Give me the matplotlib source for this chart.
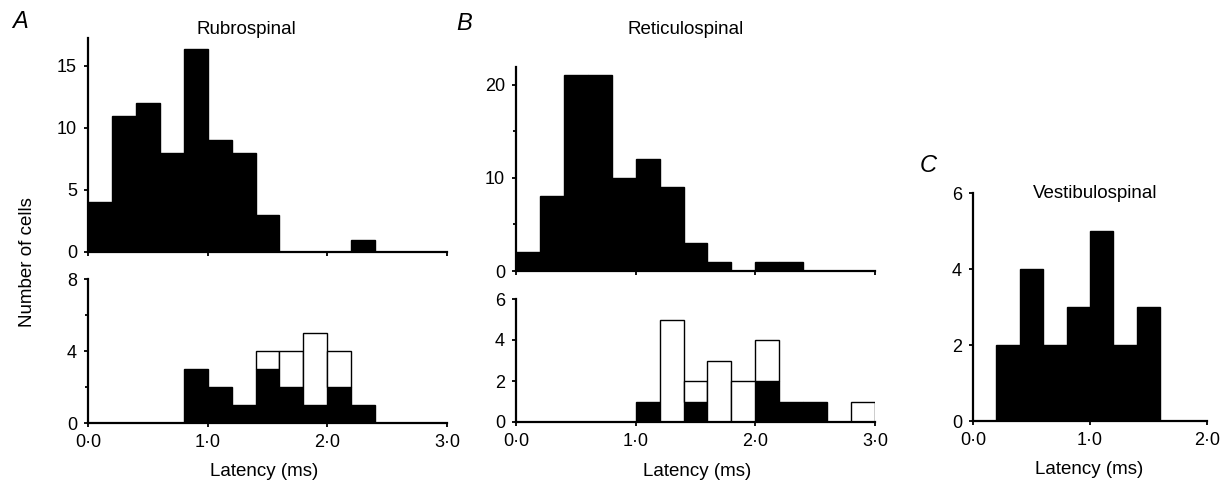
import numpy as np
import matplotlib
matplotlib.use("Agg")
import matplotlib.pyplot as plt
from matplotlib.ticker import FixedLocator

plt.rcParams['font.family'] = ['Liberation Sans', 'DejaVu Sans']

# bin left edges (ms), bin width 0.2 ms
bin_w = 0.2
edges_ab = np.round(np.arange(0, 3.0, bin_w), 1)
edges_c = np.round(np.arange(0, 2.0, bin_w), 1)

# A: rubrospinal
rubro_top = [4, 11, 12, 8, 16.4, 9, 8, 3, 0, 0, 0, 1, 0, 0, 0]
rubro_black = [0, 0, 0, 0, 3, 2, 1, 3, 2, 1, 2, 1, 0, 0, 0]
rubro_total = [0, 0, 0, 0, 3, 2, 1, 4, 4, 5, 4, 1, 0, 0, 0]

# B: reticulospinal
retic_top = [2, 8, 21, 21, 10, 12, 9, 3, 1, 0, 1, 1, 0, 0, 0]
retic_black = [0, 0, 0, 0, 0, 1, 0, 1, 0, 0, 2, 1, 1, 0, 0]
retic_total = [0, 0, 0, 0, 0, 1, 5, 2, 3, 2, 4, 1, 1, 0, 1]

# C: vestibulospinal
vesti = [0, 2, 4, 2, 3, 5, 2, 3, 0, 0]

x_ticks_3 = [0, 1, 2, 3]
x_labels_3 = ['0·0', '1·0', '2·0', '3·0']
x_ticks_2 = [0, 1, 2]
x_labels_2 = ['0·0', '1·0', '2·0']

W, H = 1221, 482
fig = plt.figure(figsize=(W / 100, H / 100), dpi=100)


def px_axes(x0, x1, ytop, ybot):
    return fig.add_axes([x0 / W, 1 - ybot / H, (x1 - x0) / W, (ybot - ytop) / H])


def style(ax, xlim, ylim, yticks, yminor=None, xticks=None, xlabels=None):
    ax.set_xlim(*xlim)
    ax.set_ylim(*ylim)
    for s in ['top', 'right']:
        ax.spines[s].set_visible(False)
    for s in ['left', 'bottom']:
        ax.spines[s].set_linewidth(1.6)
    ax.set_yticks(yticks)
    ax.set_yticklabels([str(t) for t in yticks])
    if yminor is not None:
        ax.yaxis.set_minor_locator(FixedLocator(yminor))
    ax.set_xticks(xticks)
    if xlabels is None:
        ax.set_xticklabels([])
    else:
        ax.set_xticklabels(xlabels)
    ax.tick_params(which='both', direction='out', length=3, width=1.3,
                   labelsize=13)
    ax.tick_params(axis='y', pad=5)
    ax.tick_params(axis='x', pad=5)
    ax.tick_params(which='minor', length=2)


def black_bars(ax, edges, vals):
    ax.bar(edges, vals, width=bin_w, align='edge', color='black',
           edgecolor='black', linewidth=1)


def stacked_bars(ax, edges, black, total):
    black = np.array(black)
    total = np.array(total)
    white = total - black
    ax.bar(edges, black, width=bin_w, align='edge', color='black',
           edgecolor='black', linewidth=1)
    m = white > 0
    ax.bar(edges[m], white[m], bottom=black[m], width=bin_w, align='edge',
           color='white', edgecolor='black', linewidth=1)


# Panel A
axA1 = px_axes(88, 447, 38, 252)
black_bars(axA1, edges_ab, rubro_top)
style(axA1, (0, 3), (0, 17.25), [0, 5, 10, 15], xticks=x_ticks_3)

axA2 = px_axes(88, 447, 279, 423)
stacked_bars(axA2, edges_ab, rubro_black, rubro_total)
style(axA2, (0, 3), (0, 8), [0, 4, 8], yminor=[2, 6],
      xticks=x_ticks_3, xlabels=x_labels_3)

# Panel B
axB1 = px_axes(516, 875, 67, 271)
black_bars(axB1, edges_ab, retic_top)
style(axB1, (0, 3), (0, 21.9), [0, 10, 20], yminor=[5, 15], xticks=x_ticks_3)

axB2 = px_axes(516, 875, 299, 422)
stacked_bars(axB2, edges_ab, retic_black, retic_total)
style(axB2, (0, 3), (0, 6), [0, 2, 4, 6],
      xticks=x_ticks_3, xlabels=x_labels_3)

# Panel C
axC = px_axes(973, 1207, 193, 421)
black_bars(axC, edges_c, vesti)
style(axC, (0, 2), (0, 6), [0, 2, 4, 6],
      xticks=x_ticks_2, xlabels=x_labels_2)


# texts
def ftext(x, y, s, **kw):
    fig.text(x / W, 1 - y / H, s, ha='center', va='center', **kw)


ftext(20, 21, 'A', fontsize=17, style='italic')
ftext(464, 24, 'B', fontsize=17, style='italic')
ftext(928, 165, 'C', fontsize=17, style='italic')
ftext(246, 29, 'Rubrospinal', fontsize=13.5)
ftext(686, 29, 'Reticulospinal', fontsize=13.5)
ftext(1095, 193, 'Vestibulospinal', fontsize=13.5)
ftext(28, 262, 'Number of cells', fontsize=13.5, rotation=90)
ftext(264, 471, 'Latency (ms)', fontsize=13.5)
ftext(697, 471, 'Latency (ms)', fontsize=13.5)
ftext(1089, 470, 'Latency (ms)', fontsize=13.5)

fig.savefig('out.png', dpi=100)
